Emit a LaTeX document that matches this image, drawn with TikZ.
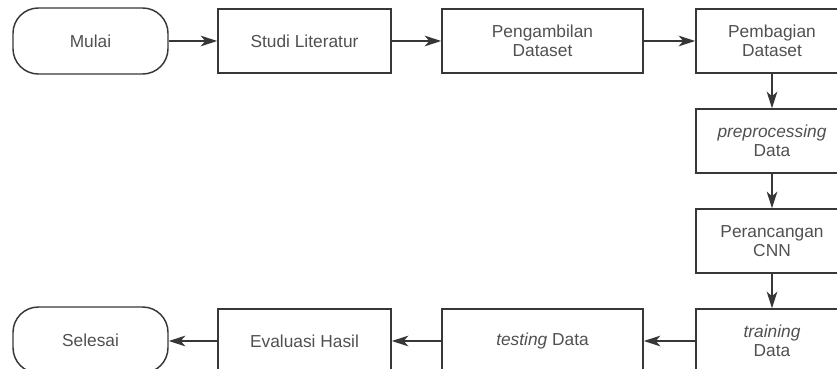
\documentclass[tikz,border=0pt]{standalone}
\usepackage{fontspec}
\setmainfont{Liberation Sans}
\usepackage{xcolor}
\usepackage{tikz}
\usetikzlibrary{arrows.meta}

\definecolor{garis}{RGB}{55,55,55}
\definecolor{teks}{RGB}{80,80,80}

\begin{document}
\begin{tikzpicture}[x=0.75pt,y=0.75pt,yscale=-1,xscale=1,
  blok/.style={draw=garis,line width=1.1pt,minimum height=48pt,inner sep=0pt,
    align=center,text=teks,font=\fontsize{13}{14.3}\selectfont},
  terminal/.style={blok,rounded corners=19pt,minimum height=49.5pt},
  panah/.style={draw=garis,line width=1.1pt,-{Stealth[length=12.5pt,width=8pt,inset=3.5pt]}}]
\clip (0,0) rectangle (837,368);

\node [terminal,minimum width=116.25pt] (mulai) at (90.5,41) {Mulai};
\node [blok,minimum width=129.75pt] (studi) at (304.5,41) {Studi Literatur};
\node [blok,minimum width=150.75pt] (ambil) at (542.5,41) {Pengambilan\\Dataset};
\node [blok,minimum width=114pt] (bagi) at (772,41) {Pembagian\\Dataset};

\node [blok,minimum width=114pt] (prepro) at (772,141) {\textit{preprocessing}\\Data};
\node [blok,minimum width=114pt] (cnn) at (772,241) {Perancangan\\CNN};
\node [blok,minimum width=114pt] (latih) at (772,341) {\textit{training}\\Data};

\node [blok,minimum width=150.75pt] (uji) at (542.5,341) {\textit{testing} Data};
\node [blok,minimum width=129.75pt] (evaluasi) at (304.5,341) {Evaluasi Hasil};
\node [terminal,minimum width=116.25pt] (selesai) at (90.5,340) {Selesai};

\draw [panah] (mulai) -- (studi);
\draw [panah] (studi) -- (ambil);
\draw [panah] (ambil) -- (bagi);
\draw [panah] (bagi) -- (prepro);
\draw [panah] (prepro) -- (cnn);
\draw [panah] (cnn) -- (latih);
\draw [panah] (latih) -- (uji);
\draw [panah] (uji) -- (evaluasi);
\draw [panah] (evaluasi) -- (selesai.east |- evaluasi.west);

\end{tikzpicture}
\end{document}
